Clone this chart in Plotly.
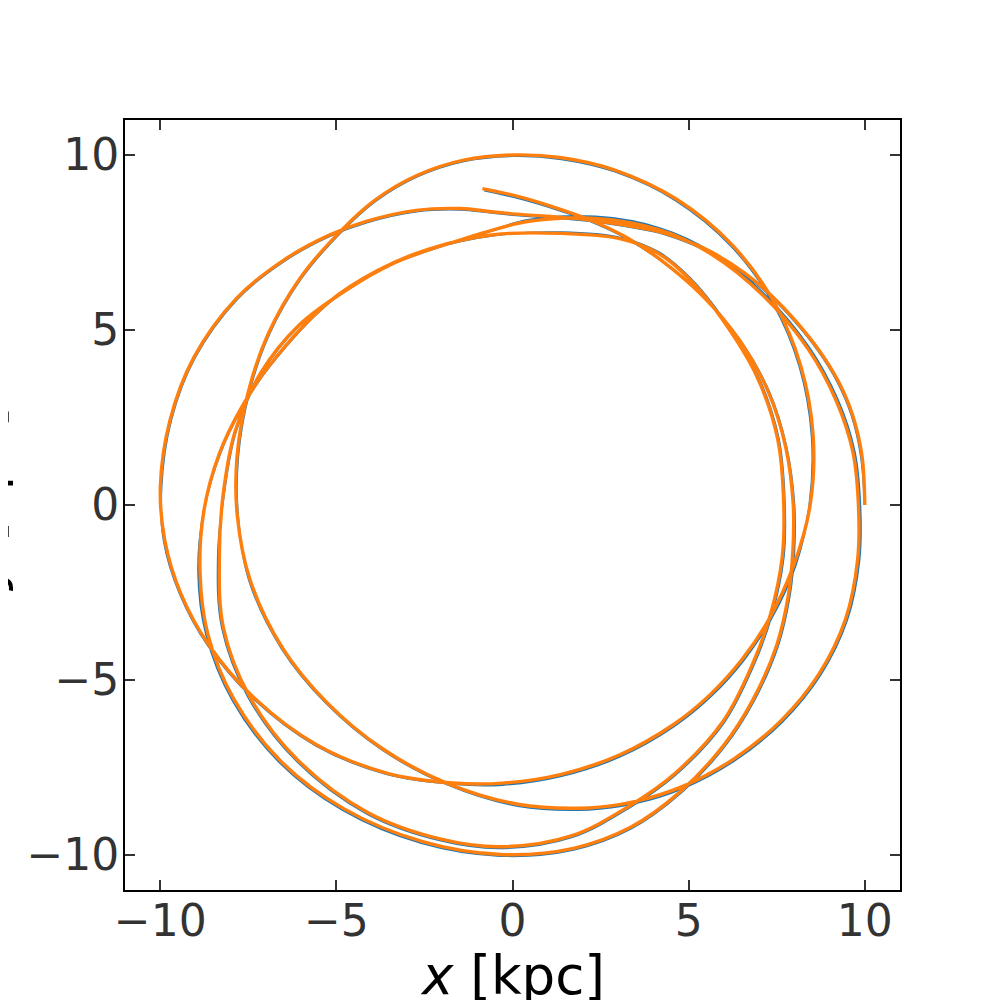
import numpy as np
import plotly.graph_objects as go

# Orbit as (azimuth in degrees within each revolution, radius in kpc).
# ---- Orange orbit ----
rev1_phi = [0, 8, 15, 21, 27, 33, 39, 45, 52, 58, 62, 68, 75, 82, 88, 94, 100,
            108, 117, 124, 133, 143, 155, 166, 177,
            186, 195, 205, 217, 231, 245, 258,
            268, 280, 293, 306, 316, 326, 336, 348]
rev1_r = [10.0, 10.02, 9.99, 9.9, 9.76, 9.61, 9.48, 9.35, 9.17, 8.98, 8.85, 8.62, 8.43, 8.32, 8.3, 8.4, 8.6,
          8.85, 9.1, 9.3, 9.55, 9.81, 9.98, 10.02, 10.01,
          9.92, 9.75, 9.5, 9.17, 8.82, 8.45, 8.12,
          7.95, 7.82, 7.76, 7.76, 7.8, 7.87, 7.98, 8.17]

rev2_phi = [0, 13, 26, 38, 50, 62, 73, 82,
            90, 98, 106, 114, 122, 133, 145, 157, 170, 182,
            196, 212, 227, 242, 257,
            271, 284, 292, 301, 311, 321, 331, 341, 351]
rev2_r = [8.45, 8.76, 9.1, 9.42, 9.7, 9.9, 10.0, 10.02,
          10.0, 9.95, 9.8, 9.55, 9.22, 8.85, 8.48, 8.16, 7.94, 7.82,
          7.75, 7.7, 7.72, 7.88, 8.17,
          8.55, 8.92, 9.15, 9.38, 9.6, 9.8, 9.95, 10.0, 9.92]

rev3_phi = [0, 9, 18, 28, 40, 52, 62, 74, 87,
            95, 101, 116, 128, 140, 152, 165, 178,
            190, 203, 216, 230, 245, 258,
            268, 280, 291, 301, 314, 326, 337, 349]
rev3_r = [9.82, 9.78, 9.66, 9.5, 9.3, 9.12, 8.9, 8.52, 8.11,
          7.85, 7.72, 7.69, 7.75, 7.95, 8.08, 8.15, 8.22,
          8.45, 8.92, 9.25, 9.5, 9.7, 9.76,
          9.77, 9.6, 9.22, 8.95, 8.6, 8.2, 7.96, 7.8]

rev4_phi = [0, 14, 28, 42, 52, 60, 68, 80,
            94, 108, 120, 132, 150, 160, 170, 181,
            192, 203, 215, 228, 241, 255,
            268, 280, 290, 300, 311, 321, 332, 342, 351]
rev4_r = [7.7, 7.76, 7.85, 7.98, 8.18, 8.3, 8.2, 7.88,
          7.74, 7.69, 7.72, 7.8, 7.97, 8.18, 8.45, 8.76,
          9.07, 9.4, 9.66, 9.84, 9.91, 9.95,
          9.99, 9.96, 9.8, 9.48, 9.12, 8.8, 8.5, 8.24, 8.06]

rev5_phi = [0, 12, 24, 36, 48, 59, 67, 74, 81, 88.5, 95.4]
rev5_r = [7.97, 7.93, 7.95, 7.98, 8.05, 8.17, 8.3, 8.42, 8.56, 8.8, 9.08]

# ---- Blue orbit (nearly identical, slightly offset in places) ----
rev1_r_blue = [10.0, 9.99, 9.96, 9.87, 9.73, 9.58, 9.45, 9.32, 9.14, 8.95, 8.82, 8.59, 8.4, 8.29, 8.27, 8.37, 8.57,
               8.82, 9.07, 9.27, 9.52, 9.78, 9.95, 9.99, 9.98,
               9.95, 9.78, 9.53, 9.2, 8.85, 8.48, 8.15,
               8.0, 7.87, 7.81, 7.81, 7.85, 7.92, 8.03, 8.22]
rev2_r_blue = [8.43, 8.72, 9.06, 9.38, 9.66, 9.86, 9.96, 9.98,
               9.97, 9.92, 9.77, 9.52, 9.19, 8.82, 8.45, 8.13, 7.91, 7.8,
               7.78, 7.73, 7.75, 7.91, 8.2,
               8.6, 8.97, 9.2, 9.43, 9.65, 9.85, 10.0, 10.05, 9.97]
rev3_r_blue = [9.87, 9.83, 9.71, 9.55, 9.35, 9.17, 8.95, 8.57, 8.15,
               7.84, 7.71, 7.68, 7.74, 7.93, 8.06, 8.13, 8.2,
               8.49, 8.96, 9.29, 9.54, 9.74, 9.8,
               9.81, 9.64, 9.26, 8.99, 8.64, 8.24, 8.0, 7.84]
rev4_r_blue = [7.73, 7.79, 7.88, 8.01, 8.21, 8.33, 8.23, 7.91,
               7.72, 7.67, 7.7, 7.78, 7.95, 8.16, 8.43, 8.76,
               9.12, 9.45, 9.71, 9.89, 9.96, 10.0,
               10.03, 10.0, 9.84, 9.52, 9.16, 8.84, 8.54, 8.28, 8.1]
rev5_phi_blue = [0, 12, 24, 36, 48, 59, 67, 74, 81, 88.5, 95.1]
rev5_r_blue = [8.0, 7.95, 7.97, 7.99, 8.05, 8.16, 8.28, 8.39, 8.52, 8.75, 9.02]

tick_vals = [-10, -5, 0, 5, 10]
tick_text = ["\u221210", "\u22125", "0", "5", "10"]


def orbit_xy(phis, rs):
    ang, rad = [], []
    for k, (p, r) in enumerate(zip(phis, rs)):
        ang += [v + 360.0 * k for v in p]
        rad += list(r)
    a = np.radians(ang)
    rad = np.array(rad)
    return rad * np.cos(a), rad * np.sin(a)


xo, yo = orbit_xy([rev1_phi, rev2_phi, rev3_phi, rev4_phi, rev5_phi],
                  [rev1_r, rev2_r, rev3_r, rev4_r, rev5_r])
xb, yb = orbit_xy([rev1_phi, rev2_phi, rev3_phi, rev4_phi, rev5_phi_blue],
                  [rev1_r_blue, rev2_r_blue, rev3_r_blue, rev4_r_blue, rev5_r_blue])

fig = go.Figure()
fig.add_trace(go.Scatter(x=xb, y=yb, mode="lines",
                         line=dict(color="#1f77b4", width=2.1, shape="spline", smoothing=1.0),
                         hoverinfo="skip", showlegend=False))
fig.add_trace(go.Scatter(x=xo, y=yo, mode="lines",
                         line=dict(color="#ff7f0e", width=3.4, shape="spline", smoothing=1.0),
                         hoverinfo="skip", showlegend=False))

axis_style = dict(
    range=[-11, 11], tickvals=tick_vals, ticktext=tick_text,
    ticks="inside", ticklen=10, tickwidth=1.6, tickcolor="#333333",
    showline=True, linecolor="black", linewidth=1.8, mirror="ticks",
    showgrid=False, zeroline=False,
    tickfont=dict(family="DejaVu Sans", size=44, color="#333333"),
)
fig.update_xaxes(**axis_style, ticklabelstandoff=-9)
fig.update_yaxes(**axis_style, ticklabelstandoff=-5)

fig.update_layout(
    width=1000, height=1000,
    margin=dict(l=117, r=108, t=112, b=118),
    plot_bgcolor="white", paper_bgcolor="white",
    showlegend=False,
    annotations=[
        dict(text="<i>x</i> [kpc]", xref="paper", yref="paper", x=0.5, y=-0.069,
             xanchor="center", yanchor="top", showarrow=False,
             font=dict(family="DejaVu Sans", size=53, color="black")),
        dict(text="<i>y</i> [kpc]", xref="paper", yref="paper", x=-0.182, y=0.508,
             xanchor="center", yanchor="middle", showarrow=False, textangle=-90,
             font=dict(family="DejaVu Sans", size=53, color="black")),
    ],
)

fig.write_html("out.html")
